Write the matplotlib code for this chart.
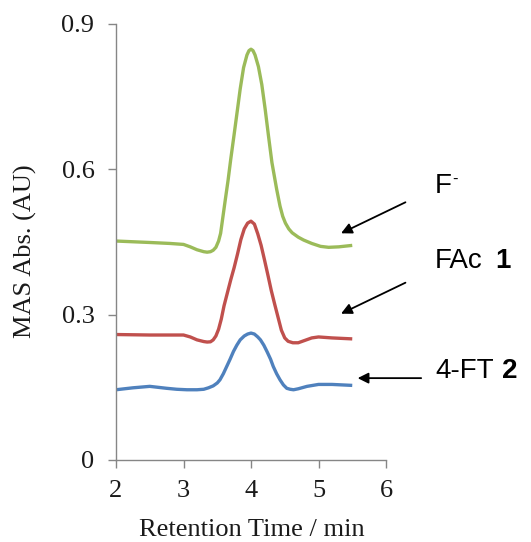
import matplotlib
matplotlib.use("Agg")
import matplotlib.pyplot as plt

# Retention time (min) and absorbance traces for each sample
time_f = [2.0, 2.5, 2.8, 3.0, 3.1, 3.2, 3.3, 3.35, 3.4, 3.44, 3.48, 3.52, 3.55,
          3.57, 3.62, 3.66, 3.70, 3.75, 3.80, 3.84, 3.89, 3.94, 3.97, 4.0, 4.03,
          4.06, 4.11, 4.16, 4.21, 4.26, 4.31, 4.38, 4.43, 4.47, 4.51, 4.56, 4.61,
          4.70, 4.78, 4.90, 5.03, 5.15, 5.30, 5.5]
abs_f = [0.452, 0.449, 0.447, 0.445, 0.440, 0.434, 0.430, 0.429, 0.430, 0.433,
         0.439, 0.452, 0.468, 0.488, 0.538, 0.577, 0.621, 0.672, 0.724, 0.766,
         0.810, 0.836, 0.845, 0.848, 0.845, 0.836, 0.812, 0.775, 0.724, 0.668,
         0.614, 0.559, 0.524, 0.503, 0.489, 0.477, 0.469, 0.460, 0.454, 0.447,
         0.441, 0.439, 0.440, 0.443]

time_fac = [2.0, 2.5, 2.8, 3.0, 3.1, 3.2, 3.3, 3.35, 3.4, 3.44, 3.48, 3.52,
            3.56, 3.60, 3.65, 3.70, 3.75, 3.80, 3.85, 3.90, 3.95, 4.0, 4.05,
            4.10, 4.15, 4.20, 4.25, 4.30, 4.35, 4.40, 4.45, 4.50, 4.55, 4.62,
            4.70, 4.80, 4.90, 5.0, 5.2, 5.5]
abs_fac = [0.259, 0.258, 0.258, 0.258, 0.254, 0.248, 0.2445, 0.2435, 0.244,
           0.248, 0.256, 0.270, 0.291, 0.318, 0.345, 0.372, 0.397, 0.425, 0.455,
           0.477, 0.489, 0.493, 0.487, 0.467, 0.443, 0.413, 0.382, 0.350, 0.322,
           0.295, 0.268, 0.252, 0.245, 0.242, 0.242, 0.247, 0.252, 0.254, 0.252,
           0.250]

time_ft = [2.0, 2.25, 2.5, 2.75, 2.9, 3.05, 3.2, 3.3, 3.37, 3.44, 3.5, 3.54,
           3.59, 3.64, 3.69, 3.74, 3.79, 3.84, 3.9, 3.95, 4.0, 4.05, 4.1, 4.14,
           4.19, 4.24, 4.29, 4.33, 4.38, 4.43, 4.48, 4.53, 4.58, 4.63, 4.7,
           4.83, 5.0, 5.2, 5.5]
abs_ft = [0.145, 0.149, 0.152, 0.148, 0.146, 0.145, 0.145, 0.146, 0.149, 0.153,
          0.159, 0.1655, 0.178, 0.193, 0.208, 0.224, 0.237, 0.248, 0.256, 0.260,
          0.262, 0.260, 0.254, 0.248, 0.237, 0.223, 0.208, 0.193, 0.178, 0.1655,
          0.155, 0.148, 0.146, 0.145, 0.147, 0.152, 0.156, 0.156, 0.154]

x_ticks = [2, 3, 4, 5, 6]
y_ticks = [0, 0.3, 0.6, 0.9]
y_tick_labels = ["0", "0.3", "0.6", "0.9"]

fig = plt.figure(figsize=(5.31, 5.42), dpi=100)
ax = fig.add_axes([116 / 531, 82 / 542, 270 / 531, 436 / 542])

lw = 2.4
for t, a, c in ((time_f, abs_f, "#9BBB59"),
                (time_fac, abs_fac, "#C0504D"),
                (time_ft, abs_ft, "#4F81BD")):
    ax.plot(t, a, color=c, lw=lw, solid_capstyle="butt", solid_joinstyle="round")

ax.set_xlim(2, 6)
ax.set_ylim(0, 0.9)
ax.set_xticks(x_ticks)
ax.set_yticks(y_ticks)
ax.set_yticklabels(y_tick_labels)

spine_col = "#868686"
for side in ("top", "right"):
    ax.spines[side].set_visible(False)
for side in ("left", "bottom"):
    ax.spines[side].set_color(spine_col)
    ax.spines[side].set_linewidth(1.0)
ax.tick_params(axis="both", direction="out", length=5.5, width=1.0,
               color=spine_col, labelsize=19, labelcolor="#1a1a1a")
ax.tick_params(axis="x", pad=9)
ax.tick_params(axis="y", pad=10)
for lab in ax.get_xticklabels() + ax.get_yticklabels():
    lab.set_fontfamily("Liberation Serif")

fig.text(252 / 531, 1 - 530 / 542, "Retention Time / min", ha="center", va="center",
         fontsize=19, family="Liberation Serif", color="#1a1a1a")
fig.text(25.5 / 531, 1 - 251 / 542, "MAS Abs. (AU)", ha="center", va="center",
         rotation=90, fontsize=19, family="Liberation Serif", color="#1a1a1a")

# Peak labels with pointer arrows
arrow_kw = dict(arrowstyle="-|>", color="black", lw=1.3, mutation_scale=16,
                shrinkA=0, shrinkB=0)
ax.annotate("", xy=(5.334, 0.468), xytext=(6.288, 0.532),
            arrowprops=arrow_kw, annotation_clip=False)
ax.annotate("", xy=(5.334, 0.302), xytext=(6.288, 0.366),
            arrowprops=arrow_kw, annotation_clip=False)
ax.annotate("", xy=(5.58, 0.169), xytext=(6.521, 0.169),
            arrowprops=arrow_kw, annotation_clip=False)

lab_kw = dict(ha="left", va="baseline", fontsize=20, family="Liberation Sans",
              color="black", clip_on=False)
ax.text(6.718, 0.552, "F", **lab_kw)
ax.text(6.975, 0.571, "-", ha="left", va="baseline", fontsize=12,
        family="Liberation Sans", color="black", clip_on=False)
ax.text(6.718, 0.397, "FAc", **lab_kw)
ax.text(7.615, 0.397, "1", fontweight="bold", **lab_kw)
ax.text(6.726, 0.170, "4-FT", **lab_kw)
ax.text(7.712, 0.170, "2", fontweight="bold", **lab_kw)

fig.savefig("out.png", dpi=100)
